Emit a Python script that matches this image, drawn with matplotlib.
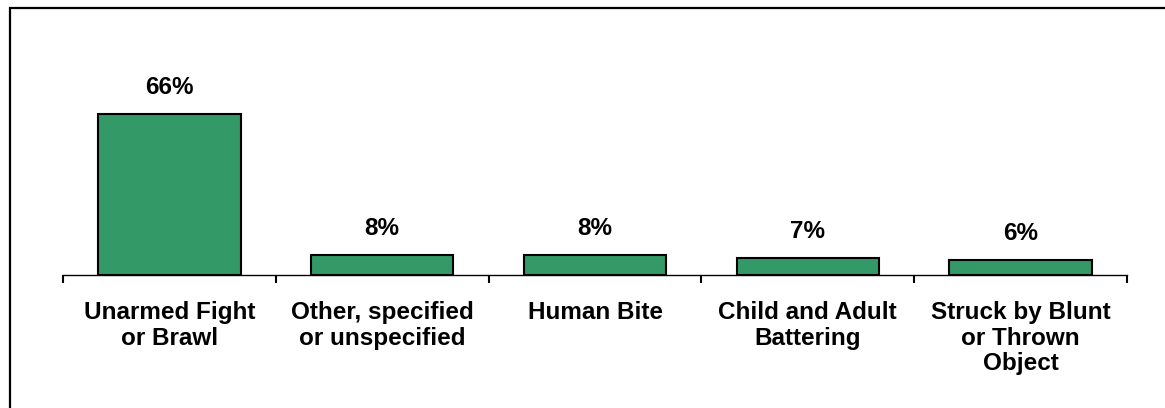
import matplotlib
matplotlib.use("Agg")
import matplotlib.pyplot as plt
from matplotlib.patches import Rectangle

categories = ["Unarmed Fight\nor Brawl", "Other, specified\nor unspecified", "Human Bite",
              "Child and Adult\nBattering", "Struck by Blunt\nor Thrown\nObject"]
values = [66, 8, 8, 7, 6]
value_labels = ["66%", "8%", "8%", "7%", "6%"]

plt.rcParams['font.family'] = ['Liberation Sans', 'DejaVu Sans']

W, H = 1165, 408
fig = plt.figure(figsize=(W / 100, H / 100), dpi=100)

# outer frame (right and bottom edges fall outside the image)
fig.patches.append(Rectangle((9.5 / W, -20 / H), (W + 20) / W, (H + 20 - 7.5) / H,
                             transform=fig.transFigure, fill=False, edgecolor='black',
                             linewidth=1.6, clip_on=False))

x0, x1 = 63, 1127
ybase, ytop = 275, 20
ax = fig.add_axes([x0 / W, 1 - ybase / H, (x1 - x0) / W, (ybase - ytop) / H])
ax.patch.set_alpha(0)

n = len(categories)
pos = list(range(n))
bars = ax.bar(pos, values, width=0.67, color='#339966', edgecolor='black', linewidth=1.5, zorder=3)

ax.set_xlim(-0.5, n - 0.5)
ax.set_ylim(0, (ybase - ytop) / 2.44)

for rect, lab in zip(bars, value_labels):
    ax.annotate(lab, (rect.get_x() + rect.get_width() / 2, rect.get_height()),
                xytext=(0, 11), textcoords='offset points', ha='center', va='bottom',
                fontsize=17.5, fontweight='bold')

for s in ['top', 'right', 'left']:
    ax.spines[s].set_visible(False)
ax.spines['bottom'].set_linewidth(1.0)
ax.set_yticks([])

ax.set_xticks([p - 0.5 for p in pos] + [n - 0.5])
ax.set_xticklabels([])
ax.tick_params(axis='x', direction='out', length=6, width=1.5, color='black')
ax.set_xticks(pos, minor=True)
ax.set_xticklabels(categories, minor=True, fontsize=17.5, fontweight='bold', linespacing=1.13)
ax.tick_params(axis='x', which='minor', length=0, pad=19)

fig.savefig("out.png", dpi=100)
